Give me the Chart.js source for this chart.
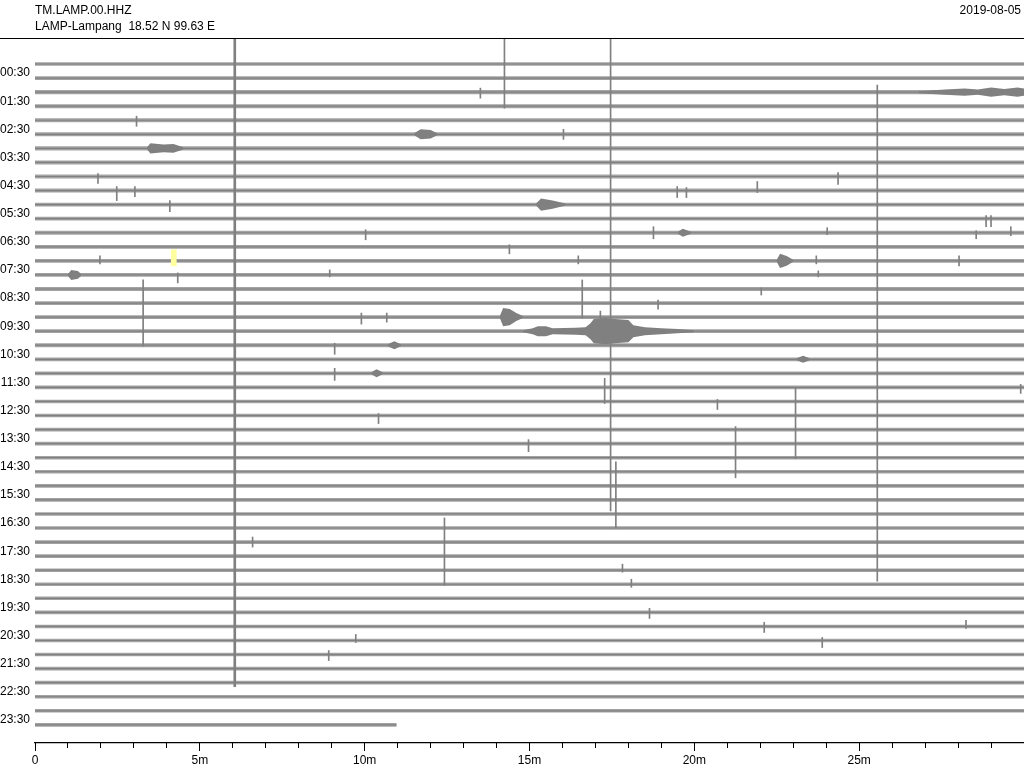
<!DOCTYPE html>
<html>
<head>
<meta charset="utf-8">
<script src="https://cdn.jsdelivr.net/npm/chart.js@4.4.0/dist/chart.umd.min.js"></script>
<style>
body { margin: 0; background: #fff; font-family: "Liberation Sans", Arial, sans-serif; }
#wrap { position: relative; width: 1024px; height: 768px; }
.hdr { position: absolute; font-size: 12px; line-height: 14px; color: #000; white-space: pre; }
#topline { position: absolute; left: 0; top: 38px; width: 1024px; height: 1px; background: #000; }
</style>
</head>
<body>
<div id="wrap">
  <canvas id="heli" width="1024" height="768"></canvas>
  <div class="hdr" style="left:35px;top:3px">TM.LAMP.00.HHZ</div>
  <div class="hdr" style="left:35px;top:19px">LAMP-Lampang  18.52 N 99.63 E</div>
  <div class="hdr" style="right:3px;top:3px">2019-08-05</div>
  <div id="topline"></div>
</div>
<script>
// one label per hour, rows are 30 minutes long
const tickLabels = ['00:30', '01:30', '02:30', '03:30', '04:30', '05:30', '06:30', '07:30',
  '08:30', '09:30', '10:30', '11:30', '12:30', '13:30', '14:30', '15:30',
  '16:30', '17:30', '18:30', '19:30', '20:30', '21:30', '22:30', '23:30'];

// background noise half-amplitude for each of the 48 rows (counts)
const noiseAmp = [
  1.8, 1.8, 2.0, 2.0, 2.0, 2.0, 2.0, 2.0, 2.0, 2.0,
  1.9, 1.9, 1.9, 1.9, 1.9, 1.9, 1.9, 1.9, 1.9, 1.9, 1.9, 1.9,
  1.8, 1.8, 1.8, 1.8, 1.8, 1.8, 1.8, 1.8, 1.8, 1.8, 1.8, 1.8, 1.8,
  1.8, 1.8, 1.8, 1.8, 1.8, 1.8, 1.8, 1.8, 1.8, 1.8, 1.8, 1.8, 1.8
];
const lastRowEnd = 10.97; // minutes recorded in the last row

// wave trains: [row, [[minute, half-amplitude], ...]]
const bursts = [
  [2, [[26.8, 1], [27.6, 2.6], [28.2, 3.6], [28.6, 2.6], [29.0, 4.6], [29.4, 3], [29.8, 4.6], [30, 3.6]]],
  [5, [[11.5, 1], [11.7, 5], [12.0, 4.2], [12.2, 1]]],
  [6, [[3.4, 1], [3.5, 5], [3.9, 3.8], [4.2, 4.3], [4.5, 1]]],
  [10, [[15.2, 1], [15.35, 6], [15.7, 4.2], [16.1, 1]]],
  [12, [[19.5, 1], [19.65, 4], [19.9, 1]]],
  [14, [[22.5, 1], [22.6, 7], [22.8, 4.8], [23.0, 1]]],
  [15, [[1.0, 1], [1.1, 5], [1.3, 3.8], [1.4, 1]]],
  [18, [[14.1, 1], [14.2, 9], [14.4, 8], [14.6, 4], [14.8, 1]]],
  [19, [[14.8, 1], [15.1, 3], [15.25, 5], [15.5, 5], [15.7, 3], [16.4, 3.5], [16.7, 4], [16.85, 8],
        [16.95, 12], [17.3, 13], [17.6, 12], [18.0, 11], [18.15, 6], [18.5, 4], [19.0, 3], [19.5, 2.2], [20, 1]]],
  [20, [[10.7, 1], [10.9, 4], [11.1, 1]]],
  [21, [[23.1, 1], [23.3, 3.5], [23.5, 1]]],
  [22, [[10.2, 1], [10.36, 4], [10.55, 1]]]
];

// single spikes: [row, minute, up, down]
const spikes = [
  [2, 13.51, 4, 6], [4, 3.08, 4, 6], [5, 16.03, 5, 5], [8, 1.91, 3, 7], [8, 24.36, 4, 8],
  [9, 2.48, 4, 10], [9, 3.03, 4, 6], [9, 19.48, 4, 7], [9, 19.76, 3, 7], [9, 21.91, 9, 2],
  [10, 4.09, 4, 7], [11, 28.85, 3, 8], [11, 29.0, 3, 8], [12, 10.03, 3, 7], [12, 18.76, 6, 6],
  [12, 24.03, 5, 2], [12, 28.55, 2, 6], [12, 29.6, 6, 3], [13, 14.39, 2, 7], [14, 1.97, 5, 3],
  [14, 16.48, 5, 3], [14, 23.7, 5, 3], [14, 28.03, 5, 5], [15, 4.33, 2, 8], [15, 8.94, 5, 2],
  [15, 23.76, 4, 2], [16, 22.03, 1, 6], [17, 18.9, 3, 6], [18, 9.9, 4, 7], [18, 10.67, 4, 5],
  [18, 17.15, 6, 4], [20, 9.09, 2, 9], [22, 9.09, 5, 7], [23, 29.9, 3, 6], [24, 20.7, 2, 8],
  [25, 10.42, 2, 8], [27, 14.97, 4, 8], [34, 6.6, 5, 5], [36, 17.82, 6, 2], [37, 18.09, 5, 3],
  [39, 18.64, 4, 6], [40, 22.12, 4, 6], [40, 28.24, 6, 2], [41, 9.73, 6, 2], [41, 23.88, 3, 7],
  [42, 8.91, 4, 6]
];

// large glitches crossing several rows: [row, minute, up, down]
const glitches = [
  [1, 14.24, 45, 30], [16, 17.46, 260, 221], [30, 17.62, 24, 42], [18, 25.55, 231, 263],
  [16, 3.28, 9, 57], [16, 16.6, 9, 29], [33, 12.42, 10, 57], [24, 23.07, 13, 57],
  [26, 21.25, 3, 48], [23, 17.28, 9, 16]
];
const bigGlitch = [22, 6.06, 340, 312];
const marker = [14, 4.21, 11, 5];

const GAIN = 1 / 14; // counts -> row spacing
const GRAY = '#808080';
const BAND = 'rgba(128,128,128,0.72)';
const FONT = { family: 'Liberation Sans', size: 12 };
const nRows = noiseAmp.length;

const toBar = ([r, t, up, dn]) => ({ x: t, y: [r - up * GAIN, r + dn * GAIN] });

function barSet(data, thickness, color, order) {
  return { type: 'bar', data: data.map(toBar), barThickness: thickness,
    backgroundColor: color, grouped: false, order: order };
}

// pair of datasets: upper edge filled down to the lower edge
function envelope(r, pts, color, order) {
  const edge = sign => pts.map(([t, a]) => ({ x: t, y: r + sign * a * GAIN }));
  return [
    { type: 'line', data: edge(-1), fill: '+1', backgroundColor: color, borderColor: 'transparent',
      borderWidth: 0, pointRadius: 0, tension: 0, order: order },
    { type: 'line', data: edge(1), fill: false, borderColor: 'transparent',
      borderWidth: 0, pointRadius: 0, tension: 0, order: order }
  ];
}

const datasets = [
  barSet([marker], 5, '#ffffa0', 0),
  barSet(spikes, 1, GRAY, 1),
  barSet(glitches, 1, GRAY, 1),
  barSet([bigGlitch], 2, GRAY, 1)
];

bursts.forEach(([r, pts]) => datasets.push(...envelope(r, pts, GRAY, 1)));

for (let r = 0; r < nRows; r++) {
  const end = r === nRows - 1 ? lastRowEnd : 30;
  datasets.push(...envelope(r, [[0, noiseAmp[r]], [end, noiseAmp[r]]], BAND, 3));
  // trace centre line
  datasets.push({
    type: 'line', data: [{ x: 0, y: r }, { x: end, y: r }],
    fill: false, borderColor: GRAY, borderWidth: 1.2,
    pointRadius: 0, tension: 0, order: 2
  });
}

new Chart(document.getElementById('heli'), {
  type: 'line',
  data: { datasets: datasets },
  options: {
    responsive: false,
    animation: false,
    events: [],
    layout: { padding: { top: 38, left: 0, right: 0, bottom: 0 } },
    plugins: { legend: { display: false }, tooltip: { enabled: false } },
    scales: {
      x: {
        type: 'linear', position: 'bottom', min: 0, max: 30, offset: false, weight: 1,
        grid: { drawOnChartArea: false, tickLength: 8, color: '#000', offset: false },
        border: { color: '#000', width: 1.2 },
        ticks: {
          stepSize: 5, color: '#000', font: FONT, padding: 2, maxRotation: 0, autoSkip: false,
          callback: v => v >= 30 ? null : (v === 0 ? '0' : v + 'm')
        },
        afterFit: s => { s.height = 25; }
      },
      xMinor: {
        type: 'linear', position: 'bottom', min: 0, max: 30, offset: false, weight: 0,
        grid: { drawOnChartArea: false, tickLength: 5, color: '#000' },
        border: { display: false },
        ticks: { stepSize: 1, display: false, autoSkip: false, callback: v => v >= 30 ? null : '' },
        afterFit: s => { s.height = 0; }
      },
      y: {
        type: 'linear', reverse: true, min: -1.85, max: 48.29, beginAtZero: false,
        grid: { display: false, drawTicks: false },
        border: { display: false },
        afterBuildTicks: s => { s.ticks = tickLabels.map((_, i) => ({ value: 2 * i + 0.65 })); },
        ticks: { autoSkip: false, color: '#000', font: FONT, padding: 5, callback: (v, i) => tickLabels[i] },
        afterFit: s => { s.width = 35; }
      }
    }
  }
});
</script>
</body>
</html>
